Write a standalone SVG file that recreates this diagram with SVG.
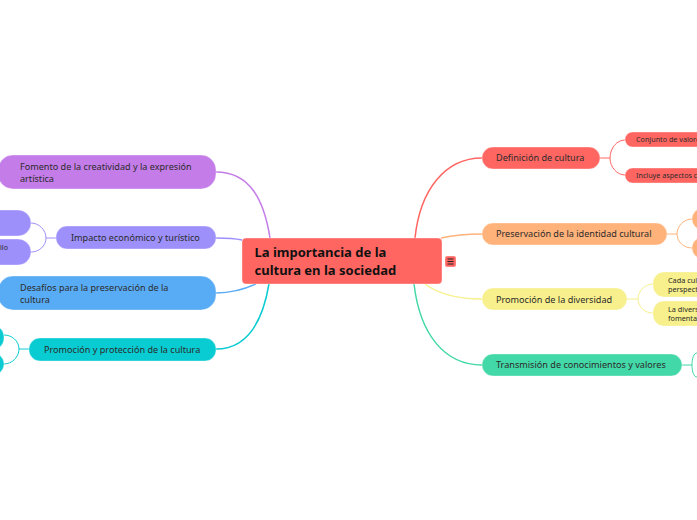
<svg xmlns="http://www.w3.org/2000/svg" width="697" height="520" viewBox="0 0 697 520">
<style>
text{font-family:"Noto Sans","DejaVu Sans",sans-serif;fill:#2b2b2b;font-size:9.1px}
.s{font-size:7.200px}
.m{font-size:7.300px}
.r{font-family:"Noto Sans","DejaVu Sans",sans-serif;font-size:13px;font-weight:700;fill:#111}
#connectors path{fill:none;stroke-width:1.5}
.thin path{stroke-width:1!important}
rect{stroke:#fff;stroke-opacity:.35;stroke-width:1}
</style>
<rect width="697" height="520" fill="#fff" stroke="none"/>
<g id="connectors">
<path stroke="#ff6662" d="M415 238C420 190 445 158 482 158"/>
<path stroke="#ffb27a" d="M441 238C455 235 465 234 482 234"/>
<path stroke="#f7f08c" d="M425 284C440 295 460 299 482 299"/>
<path stroke="#43d8a8" d="M414 284C420 335 445 365 482 365"/>
<path stroke="#c47ce8" d="M216 172C250 172 264 200 270 238"/>
<path stroke="#9d90fb" d="M216 238C226 238 233 238 242 240"/>
<path stroke="#58abf5" d="M216 293C232 293 243 290 256 284"/>
<path stroke="#09ccd2" d="M216 349C245 349 262 325 269 284"/>
<g class="thin">
<path stroke="#ff6662" d="M600 158H610M625 140C617 140 610 148 610 158C610 167 617 175 625 175"/>
<path stroke="#ffb27a" d="M667 234H677M692 219C684 219 677 226 677 234C677 242 684 248 692 248"/>
<path stroke="#f7f08c" d="M627 299H638M653 284C645 284 638 291 638 299C638 307 645 313 653 313"/>
<path stroke="#43d8a8" d="M682 365H692M697 353C694 353 692 358 692 365C692 372 694 377 697 377"/>
<path stroke="#9d90fb" d="M56 238H46M31 223C39 223 46 230 46 238C46 246 39 252 31 252"/>
<path stroke="#09ccd2" d="M29 349H19M4 335C12 335 19 341 19 349C19 357 12 364 4 364"/>
</g>
</g>
<g id="root"><rect x="242" y="238" width="200" height="46" rx="4" fill="#ff6662"/><text class="r" x="254.500" y="257">La importancia de la</text><text class="r" x="254.500" y="275">cultura en la sociedad</text></g>
<g id="menu"><rect x="445" y="256" width="11" height="11" rx="2" fill="#ff6662"/><path d="M447.500 259H453.500M447.500 261.500H453.500M447.500 264H453.500" stroke="#222" stroke-width="1"/></g>
<g id="n1"><rect x="482" y="147" width="118" height="22" rx="11" fill="#ff6662"/><text x="496" y="161">Definición de cultura</text></g>
<g id="n1a"><rect x="625" y="132" width="90" height="15" rx="7.500" fill="#ff6662"/><text class="s" x="636" y="142">Conjunto de valore</text></g>
<g id="n1b"><rect x="625" y="168" width="90" height="15" rx="7.500" fill="#ff6662"/><text class="s" x="636" y="178">Incluye aspectos c</text></g>
<g id="n2"><rect x="482" y="223" width="185" height="22" rx="11" fill="#ffb27a"/><text x="496" y="237">Preservación de la identidad cultural</text></g>
<g id="n2a"><rect x="692" y="208" width="30" height="22" rx="11" fill="#ffb27a"/></g>
<g id="n2b"><rect x="692" y="237" width="30" height="22" rx="11" fill="#ffb27a"/></g>
<g id="n3"><rect x="482" y="288" width="145" height="22" rx="11" fill="#f7f08c"/><text x="496" y="303">Promoción de la diversidad</text></g>
<g id="n3a"><rect x="653" y="272" width="70" height="25" rx="11" fill="#f7f08c"/><text class="m" x="668" y="283">Cada cul</text><text class="m" x="668" y="292">perspect</text></g>
<g id="n3b"><rect x="653" y="301" width="70" height="25" rx="11" fill="#f7f08c"/><text class="m" x="668" y="312">La divers</text><text class="m" x="668" y="321">fomenta</text></g>
<g id="n4"><rect x="482" y="354" width="200" height="22" rx="11" fill="#43d8a8"/><text x="496" y="368">Transmisión de conocimientos y valores</text></g>
<g id="l1"><rect x="-2" y="155" width="218" height="34" rx="15" fill="#c47ce8"/><text x="20" y="170">Fomento de la creatividad y la expresión</text><text x="20" y="182">artística</text></g>
<g id="l2"><rect x="56" y="226" width="160" height="23" rx="11" fill="#9d90fb"/><text x="71" y="241">Impacto económico y turístico</text></g>
<g id="l2a"><rect x="-40" y="210" width="71" height="26" rx="13" fill="#9d90fb"/></g>
<g id="l2b"><rect x="-40" y="239" width="71" height="26" rx="13" fill="#9d90fb"/><text class="s" x="0" y="250">llo</text></g>
<g id="l3"><rect x="-2" y="276" width="218" height="34" rx="15" fill="#58abf5"/><text x="20" y="291">Desafíos para la preservación de la</text><text x="20" y="303">cultura</text></g>
<g id="l4"><rect x="29" y="338" width="187" height="23" rx="11" fill="#09ccd2"/><text x="44" y="353">Promoción y protección de la cultura</text></g>
<g id="l4a"><rect x="-40" y="325" width="44" height="25" rx="12" fill="#09ccd2"/></g>
<g id="l4b"><rect x="-40" y="353" width="44" height="22" rx="11" fill="#09ccd2"/></g>
</svg>
